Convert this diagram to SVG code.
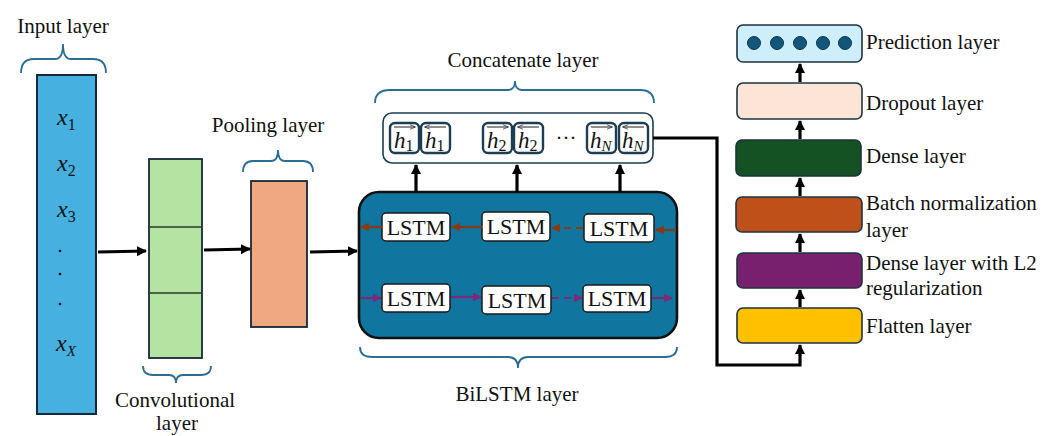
<svg xmlns="http://www.w3.org/2000/svg" width="1061" height="436" viewBox="0 0 1061 436" font-family="'Liberation Serif', 'Times New Roman', serif">
  <defs>
    <marker id="ah" viewBox="0 0 10 10" refX="9" refY="5" markerWidth="3.2" markerHeight="3.2" orient="auto">
      <path d="M0,0 L10,5 L0,10 z" fill="#000"/>
    </marker>
    <marker id="ahBrown" viewBox="0 0 10 10" refX="9" refY="5" markerWidth="4" markerHeight="4" orient="auto">
      <path d="M0,0 L10,5 L0,10 z" fill="#8a3a12"/>
    </marker>
    <marker id="ahPurple" viewBox="0 0 10 10" refX="9" refY="5" markerWidth="4" markerHeight="4" orient="auto">
      <path d="M0,0 L10,5 L0,10 z" fill="#7a2a78"/>
    </marker>
    <marker id="ahSmall" viewBox="0 0 10 10" refX="9" refY="5" markerWidth="5" markerHeight="5" orient="auto">
      <path d="M0,1 L10,5 L0,9" fill="none" stroke="#333" stroke-width="1.4"/>
    </marker>
  </defs>
  <style>
    text { font-family: "Liberation Serif", "Times New Roman", serif; fill: #111; }
    .lbl { font-size: 21px; }
    .math { font-size: 24px; font-style: italic; }
    .hm { font-size: 23px; font-style: italic; }
    .sub { font-size: 16px; font-style: normal; }
    .msub { font-size: 15px; font-style: italic; }
    .brace { fill: none; stroke: #2b6d93; stroke-width: 1.8; }
    .conn { fill: none; stroke: #000; stroke-width: 3.2; }
    .lstm { fill: #fff; stroke: #1a1a1a; stroke-width: 1.5; }
    .lstmTxt { font-size: 22px; text-anchor: middle; }
    .cell { fill: #fff; stroke: #1d3d52; stroke-width: 2.4; }
    .hdec { fill: none; stroke: #333; stroke-width: 1.1; }
    .stack { stroke: #1d3342; stroke-width: 1.6; }
    .bwd { fill: none; stroke: #8a3a12; stroke-width: 2.2; }
    .fwd { fill: none; stroke: #7a2a78; stroke-width: 2.2; }
  </style>

  <!-- Input layer -->
  <g id="input-layer">
    <text class="lbl" x="63" y="33" text-anchor="middle">Input layer</text>
    <path class="brace" d="M21,73 Q21,59 34,59 L55,59 Q63,59 63,44 Q63,59 71,59 L93,59 Q106,59 106,73"/>
    <rect x="37" y="75" width="59" height="339" fill="#46b0e0" stroke="#16283a" stroke-width="2"/>
    <text class="math" x="57" y="125">x<tspan class="sub" dy="5">1</tspan></text>
    <text class="math" x="57" y="171">x<tspan class="sub" dy="5">2</tspan></text>
    <text class="math" x="57" y="217">x<tspan class="sub" dy="5">3</tspan></text>
    <circle cx="60" cy="251" r="1.3" fill="#111"/>
    <circle cx="60" cy="274" r="1.3" fill="#111"/>
    <circle cx="60" cy="304" r="1.3" fill="#111"/>
    <text class="math" x="56" y="351">x<tspan class="msub" dy="5">X</tspan></text>
  </g>

  <!-- Convolutional layer -->
  <g id="conv-layer">
    <rect x="149" y="159" width="53" height="199" fill="#b5e4a2" stroke="#16283a" stroke-width="1.8"/>
    <line x1="149" y1="227" x2="202" y2="227" stroke="#2a3a2a" stroke-width="1.5"/>
    <line x1="149" y1="293" x2="202" y2="293" stroke="#2a3a2a" stroke-width="1.5"/>
    <path class="brace" d="M143,366 Q143,375 153,375 L169,375 Q176,375 176,383 Q176,375 183,375 L201,375 Q211,375 211,366"/>
    <text class="lbl" x="175" y="407" text-anchor="middle">Convolutional</text>
    <text class="lbl" x="177" y="430" text-anchor="middle">layer</text>
  </g>

  <!-- Pooling layer -->
  <g id="pooling-layer">
    <text class="lbl" x="268" y="132" text-anchor="middle">Pooling layer</text>
    <path class="brace" d="M243,172 Q243,161 253,161 L271,161 Q278,161 278,150 Q278,161 285,161 L303,161 Q313,161 313,172"/>
    <rect x="251" y="181" width="56" height="146" fill="#f0a880" stroke="#16283a" stroke-width="1.8"/>
  </g>

  <!-- BiLSTM layer -->
  <g id="bilstm-layer">
    <rect x="359" y="192" width="318" height="146" rx="20" fill="#10759f" stroke="#111" stroke-width="2.6"/>
    <rect class="lstm" x="382" y="213" width="68" height="28" rx="4"/>
    <rect class="lstm" x="482" y="212" width="68" height="29" rx="4"/>
    <rect class="lstm" x="584" y="214" width="70" height="28" rx="4"/>
    <rect class="lstm" x="382" y="284" width="68" height="28" rx="4"/>
    <rect class="lstm" x="482" y="286" width="69" height="28" rx="4"/>
    <rect class="lstm" x="583" y="285" width="68" height="27" rx="4"/>
    <text class="lstmTxt" x="416" y="235">LSTM</text>
    <text class="lstmTxt" x="516" y="234">LSTM</text>
    <text class="lstmTxt" x="619" y="236">LSTM</text>
    <text class="lstmTxt" x="416" y="306">LSTM</text>
    <text class="lstmTxt" x="517" y="308">LSTM</text>
    <text class="lstmTxt" x="617" y="306">LSTM</text>
    <path class="brace" d="M360,347 Q360,357 372,357 L508,357 Q518,357 518,368 Q518,357 528,357 L665,357 Q677,357 677,347"/>
    <text class="lbl" x="517" y="401" text-anchor="middle">BiLSTM layer</text>
  </g>

  <!-- Concatenate layer -->
  <g id="concat-layer">
    <text class="lbl" x="523" y="67" text-anchor="middle">Concatenate layer</text>
    <path class="brace" d="M375,103 Q375,90 390,90 L508,90 Q515,90 515,81 Q515,90 522,90 L640,90 Q654,90 654,103"/>
    <rect x="383" y="113" width="270" height="50" rx="9" fill="#fff" stroke="#1d3d52" stroke-width="1.6"/>
    <rect class="cell" x="390" y="123" width="29" height="30" rx="5"/>
    <rect class="cell" x="421" y="123" width="29" height="30" rx="5"/>
    <rect class="cell" x="483" y="123" width="29" height="30" rx="5"/>
    <rect class="cell" x="514" y="123" width="29" height="30" rx="5"/>
    <rect class="cell" x="587" y="123" width="29" height="30" rx="5"/>
    <rect class="cell" x="619" y="123" width="29" height="30" rx="5"/>
    <!-- hidden-state symbols with direction bars -->
    <text class="hm" x="394" y="148">h<tspan class="sub" dy="3">1</tspan></text>
    <text class="hm" x="425" y="148">h<tspan class="sub" dy="3">1</tspan></text>
    <text class="hm" x="487" y="148">h<tspan class="sub" dy="3">2</tspan></text>
    <text class="hm" x="518" y="148">h<tspan class="sub" dy="3">2</tspan></text>
    <text class="hm" x="590" y="148">h<tspan class="msub" dy="3">N</tspan></text>
    <text class="hm" x="622" y="148">h<tspan class="msub" dy="3">N</tspan></text>
    <line class="hdec" x1="394" y1="127" x2="415" y2="127" marker-end="url(#ahSmall)"/>
    <line class="hdec" x1="446" y1="127" x2="425" y2="127" marker-end="url(#ahSmall)"/>
    <line class="hdec" x1="487" y1="127" x2="508" y2="127" marker-end="url(#ahSmall)"/>
    <line class="hdec" x1="539" y1="127" x2="518" y2="127" marker-end="url(#ahSmall)"/>
    <line class="hdec" x1="591" y1="127" x2="612" y2="127" marker-end="url(#ahSmall)"/>
    <line class="hdec" x1="644" y1="127" x2="623" y2="127" marker-end="url(#ahSmall)"/>
    <text class="lbl" x="566" y="145" text-anchor="middle">···</text>
  </g>

  <!-- Right-hand dense stack -->
  <g id="flatten-layer">
    <rect class="stack" x="737" y="308" width="125" height="35" rx="6" fill="#ffc000"/>
    <text class="lbl" x="866" y="333">Flatten layer</text>
  </g>
  <g id="dense-l2-layer">
    <rect class="stack" x="737" y="253" width="125" height="35" rx="6" fill="#78206e"/>
    <text class="lbl" x="866" y="270">Dense layer with L2</text>
    <text class="lbl" x="866" y="295">regularization</text>
  </g>
  <g id="batchnorm-layer">
    <rect class="stack" x="736" y="197" width="126" height="35" rx="6" fill="#c0501a"/>
    <text class="lbl" x="866" y="210">Batch normalization</text>
    <text class="lbl" x="866" y="237">layer</text>
  </g>
  <g id="dense-layer">
    <rect class="stack" x="736" y="140" width="125" height="36" rx="6" fill="#145223"/>
    <text class="lbl" x="866" y="163">Dense layer</text>
  </g>
  <g id="dropout-layer">
    <rect class="stack" x="737" y="83" width="125" height="36" rx="6" fill="#fce4d6"/>
    <text class="lbl" x="866" y="110">Dropout layer</text>
  </g>
  <g id="prediction-layer">
    <rect class="stack" x="737" y="25" width="125" height="37" rx="6" fill="#cdeefa"/>
    <circle cx="754" cy="43" r="6.5" fill="#14557a" stroke="#0d3550" stroke-width="1"/>
    <circle cx="777" cy="43" r="6.5" fill="#14557a" stroke="#0d3550" stroke-width="1"/>
    <circle cx="800" cy="43" r="6.5" fill="#14557a" stroke="#0d3550" stroke-width="1"/>
    <circle cx="823" cy="43" r="6.5" fill="#14557a" stroke="#0d3550" stroke-width="1"/>
    <circle cx="845" cy="43" r="6.5" fill="#14557a" stroke="#0d3550" stroke-width="1"/>
    <text class="lbl" x="866" y="49">Prediction layer</text>
  </g>

  <!-- Connectors -->
  <g id="connectors">
    <line class="conn" x1="98" y1="252" x2="146" y2="251" marker-end="url(#ah)"/>
    <line class="conn" x1="204" y1="250" x2="250" y2="249" marker-end="url(#ah)"/>
    <line class="conn" x1="310" y1="252" x2="357" y2="251" marker-end="url(#ah)"/>
    <!-- BiLSTM outputs up to concatenation -->
    <line class="conn" x1="416" y1="192" x2="416" y2="165" marker-end="url(#ah)"/>
    <line class="conn" x1="517" y1="192" x2="517" y2="165" marker-end="url(#ah)"/>
    <line class="conn" x1="620" y1="192" x2="620" y2="165" marker-end="url(#ah)"/>
    <!-- backward direction -->
    <line class="bwd" x1="676" y1="230" x2="656" y2="230" marker-end="url(#ahBrown)"/>
    <line class="bwd" x1="583" y1="228" x2="552" y2="228" stroke-dasharray="7,5" marker-end="url(#ahBrown)"/>
    <line class="bwd" x1="482" y1="227" x2="452" y2="227" marker-end="url(#ahBrown)"/>
    <line class="bwd" x1="382" y1="227" x2="361" y2="227" marker-end="url(#ahBrown)"/>
    <!-- forward direction -->
    <line class="fwd" x1="361" y1="298" x2="381" y2="298" marker-end="url(#ahPurple)"/>
    <line class="fwd" x1="451" y1="297" x2="481" y2="297" marker-end="url(#ahPurple)"/>
    <line class="fwd" x1="552" y1="298" x2="582" y2="298" stroke-dasharray="7,5" marker-end="url(#ahPurple)"/>
    <line class="fwd" x1="652" y1="298" x2="672" y2="298" marker-end="url(#ahPurple)"/>
    <!-- concatenation to flatten -->
    <path class="conn" d="M653,138 L717,138 L717,365 L800,365 L800,345" marker-end="url(#ah)"/>
    <!-- stack arrows -->
    <line class="conn" x1="800" y1="307" x2="800" y2="290" marker-end="url(#ah)"/>
    <line class="conn" x1="800" y1="252" x2="800" y2="234" marker-end="url(#ah)"/>
    <line class="conn" x1="800" y1="196" x2="800" y2="178" marker-end="url(#ah)"/>
    <line class="conn" x1="800" y1="139" x2="800" y2="121" marker-end="url(#ah)"/>
    <line class="conn" x1="800" y1="82" x2="800" y2="64" marker-end="url(#ah)"/>
  </g>
</svg>
